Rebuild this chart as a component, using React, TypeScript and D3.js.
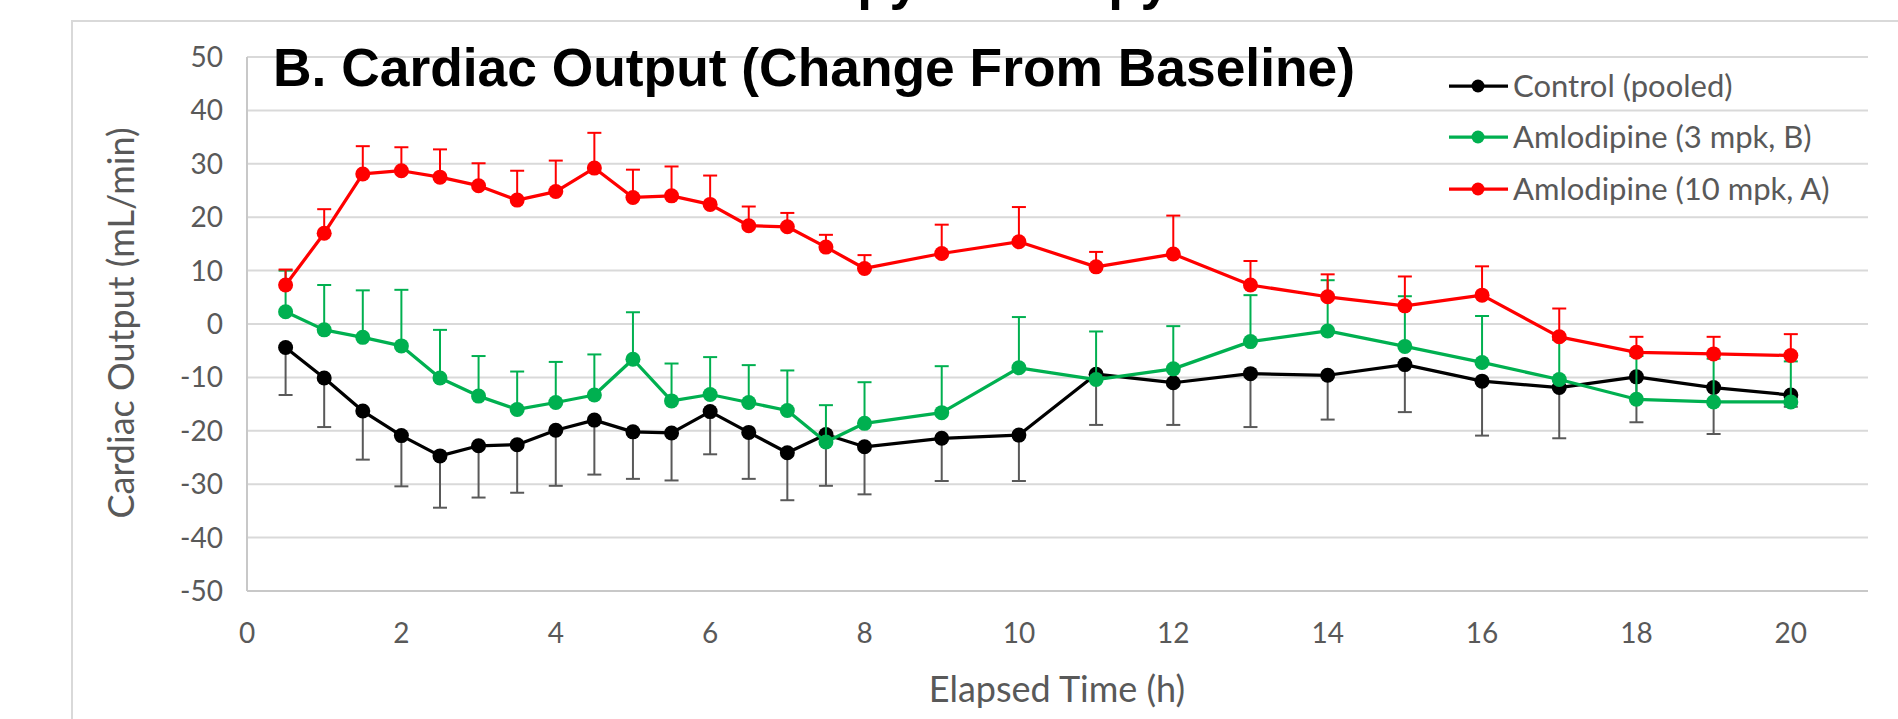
/**
 * Cardiac output change from baseline, three groups, mean +/- SD error bars.
 */
import { useEffect, useRef } from 'react';
import * as d3 from 'd3';

const hours = [0.5, 1, 1.5, 2, 2.5, 3, 3.5, 4, 4.5, 5, 5.5, 6, 6.5, 7, 7.5, 8, 9, 10, 11, 12, 13, 14, 15, 16, 17, 18, 19, 20];

// Control (pooled) - error bars drawn downward
const controlMean = [-4.4, -10.1, -16.3, -20.9, -24.7, -22.8, -22.6, -19.9, -18.0, -20.2, -20.4, -16.4, -20.3, -24.1, -20.7, -23.0, -21.4, -20.8, -9.4, -11.0, -9.3, -9.6, -7.6, -10.7, -11.9, -9.9, -11.9, -13.3];
const controlErr = [8.9, 9.2, 9.1, 9.5, 9.7, 9.7, 9.0, 10.4, 10.2, 8.8, 8.9, 8.0, 8.7, 8.9, 9.6, 8.9, 8.0, 8.6, 9.5, 7.9, 10.0, 8.3, 8.9, 10.2, 9.5, 8.5, 8.7, 2.2];

// Amlodipine 3 mpk (B) - error bars drawn upward
const amlo3Mean = [2.3, -1.1, -2.5, -4.1, -10.1, -13.5, -16.0, -14.7, -13.3, -6.6, -14.4, -13.2, -14.7, -16.2, -22.1, -18.6, -16.6, -8.2, -10.4, -8.4, -3.3, -1.3, -4.2, -7.2, -10.4, -14.1, -14.6, -14.6];
const amlo3Err = [7.7, 8.4, 8.8, 10.5, 9.0, 7.5, 7.1, 7.6, 7.6, 8.8, 7.0, 7.0, 7.0, 7.5, 6.9, 7.7, 8.7, 9.5, 9.0, 8.0, 8.7, 9.5, 9.4, 8.7, 7.4, 8.1, 8.1, 7.6];

// Amlodipine 10 mpk (A) - error bars drawn upward
const amlo10Mean = [7.3, 17.0, 28.1, 28.7, 27.5, 25.9, 23.2, 24.8, 29.2, 23.7, 24.0, 22.4, 18.4, 18.2, 14.4, 10.4, 13.2, 15.4, 10.7, 13.1, 7.3, 5.1, 3.4, 5.4, -2.4, -5.3, -5.6, -5.9];
const amlo10Err = [2.9, 4.5, 5.2, 4.4, 5.2, 4.2, 5.5, 5.8, 6.6, 5.2, 5.5, 5.4, 3.6, 2.6, 2.3, 2.5, 5.4, 6.5, 2.8, 7.2, 4.5, 4.2, 5.5, 5.4, 5.3, 2.9, 3.2, 4.0];

const seriesNames = ['Control (pooled)', 'Amlodipine (3 mpk, B)', 'Amlodipine (10 mpk, A)'];
const xTicks = [0, 2, 4, 6, 8, 10, 12, 14, 16, 18, 20];
const yTicks = [-50, -40, -30, -20, -10, 0, 10, 20, 30, 40, 50];

const COLORS = {
    grid: '#d9d9d9',
    axis: '#c8c8c8',
    text: '#595959',
    control: '#000000',
    controlBar: '#595959',
    amlo3: '#00b050',
    amlo10: '#ff0000',
};

const LABEL_FONT = 'Lato, "Open Sans", sans-serif';
const TITLE_FONT = '"Liberation Sans", Arial, sans-serif';

export default function App() {
    const svgRef = useRef<SVGSVGElement>(null);

    useEffect(() => {
        if (!svgRef.current) return;
        const svg = d3.select(svgRef.current);
        svg.selectAll('*').remove();

        const x = d3.scaleLinear().domain([0, 21]).range([247, 1868]);
        const y = d3.scaleLinear().domain([-50, 50]).range([591, 57]);

        // chart frame (cut off at right and bottom)
        svg.append('rect')
            .attr('x', 72).attr('y', 21)
            .attr('width', 1900).attr('height', 800)
            .attr('fill', '#fff')
            .attr('stroke', COLORS.grid).attr('stroke-width', 2);

        // clipped tail of a heading above the frame
        [['Monotherapy', 919], ['Therapy', 1170]].forEach(([t, ex]) => {
            svg.append('text')
                .attr('x', ex as number).attr('y', -1)
                .attr('text-anchor', 'end')
                .style('font-family', TITLE_FONT).style('font-weight', 'bold').style('font-size', '53px')
                .attr('fill', '#000')
                .text(t as string);
        });

        // gridlines
        svg.append('g')
            .selectAll('line')
            .data(yTicks.filter(d => d > -50))
            .join('line')
            .attr('x1', x(0)).attr('x2', x(21))
            .attr('y1', d => y(d)).attr('y2', d => y(d))
            .attr('stroke', COLORS.grid)
            .attr('stroke-width', 2);

        // axis lines
        svg.append('line')
            .attr('x1', x(0)).attr('x2', x(21))
            .attr('y1', y(-50)).attr('y2', y(-50))
            .attr('stroke', COLORS.axis).attr('stroke-width', 2);
        svg.append('line')
            .attr('x1', x(0)).attr('x2', x(0))
            .attr('y1', y(50)).attr('y2', y(-50))
            .attr('stroke', COLORS.axis).attr('stroke-width', 2);

        // tick labels
        svg.append('g')
            .selectAll('text')
            .data(yTicks)
            .join('text')
            .attr('x', 223).attr('y', d => y(d))
            .attr('dy', '0.36em')
            .attr('text-anchor', 'end')
            .style('font-family', LABEL_FONT).style('font-size', '28px')
            .attr('fill', COLORS.text)
            .text(d => d);

        svg.append('g')
            .selectAll('text')
            .data(xTicks)
            .join('text')
            .attr('x', d => x(d)).attr('y', 643)
            .attr('text-anchor', 'middle')
            .style('font-family', LABEL_FONT).style('font-size', '28px')
            .attr('fill', COLORS.text)
            .text(d => d);

        // axis titles
        svg.append('text')
            .attr('x', 1057).attr('y', 702)
            .attr('text-anchor', 'middle')
            .style('font-family', LABEL_FONT).style('font-size', '36px')
            .attr('fill', COLORS.text)
            .text('Elapsed Time (h)');

        svg.append('text')
            .attr('transform', 'translate(134,323) rotate(-90)')
            .attr('text-anchor', 'middle')
            .style('font-family', LABEL_FONT).style('font-size', '36px')
            .attr('fill', COLORS.text)
            .text('Cardiac Output (mL/min)');

        // series
        const series = [
            { name: seriesNames[0], color: COLORS.control, barColor: COLORS.controlBar, mean: controlMean, err: controlErr, dir: -1 },
            { name: seriesNames[1], color: COLORS.amlo3, barColor: COLORS.amlo3, mean: amlo3Mean, err: amlo3Err, dir: 1 },
            { name: seriesNames[2], color: COLORS.amlo10, barColor: COLORS.amlo10, mean: amlo10Mean, err: amlo10Err, dir: 1 },
        ];

        const line = d3.line<[number, number]>()
            .x(d => x(d[0]))
            .y(d => y(d[1]));

        series.forEach(s => {
            const pts = hours.map((h, i) => ({ h, m: s.mean[i], e: s.err[i] }));
            const g = svg.append('g');

            // error bars
            const bars = g.append('g');
            bars.selectAll('line.stem')
                .data(pts)
                .join('line')
                .attr('class', 'stem')
                .attr('x1', d => x(d.h)).attr('x2', d => x(d.h))
                .attr('y1', d => y(d.m)).attr('y2', d => y(d.m + s.dir * d.e))
                .attr('stroke', s.barColor).attr('stroke-width', 2);
            bars.selectAll('line.cap')
                .data(pts)
                .join('line')
                .attr('class', 'cap')
                .attr('x1', d => x(d.h) - 7).attr('x2', d => x(d.h) + 7)
                .attr('y1', d => y(d.m + s.dir * d.e)).attr('y2', d => y(d.m + s.dir * d.e))
                .attr('stroke', s.barColor).attr('stroke-width', 2);

            g.append('path')
                .datum(hours.map((h, i) => [h, s.mean[i]] as [number, number]))
                .attr('d', line)
                .attr('fill', 'none')
                .attr('stroke', s.color)
                .attr('stroke-width', 3.25)
                .attr('stroke-linejoin', 'round');

            g.selectAll('circle')
                .data(pts)
                .join('circle')
                .attr('cx', d => x(d.h)).attr('cy', d => y(d.m))
                .attr('r', 7.5)
                .attr('fill', s.color);
        });

        // legend
        const legendRows = [86, 137, 189];
        const legendG = svg.append('g');
        series.forEach((s, i) => {
            const ly = legendRows[i];
            legendG.append('line')
                .attr('x1', 1449).attr('x2', 1508)
                .attr('y1', ly).attr('y2', ly)
                .attr('stroke', s.color).attr('stroke-width', 3.25);
            legendG.append('circle')
                .attr('cx', 1478).attr('cy', ly).attr('r', 6.5)
                .attr('fill', s.color);
            legendG.append('text')
                .attr('x', 1513).attr('y', ly + 11)
                .style('font-family', LABEL_FONT).style('font-size', '31px')
                .attr('fill', COLORS.text)
                .text(s.name);
        });

        // panel title
        svg.append('text')
            .attr('x', 273).attr('y', 86)
            .attr('textLength', 1082)
            .attr('lengthAdjust', 'spacingAndGlyphs')
            .style('font-family', TITLE_FONT).style('font-weight', 'bold').style('font-size', '53px')
            .attr('fill', '#000')
            .text('B. Cardiac Output (Change From Baseline)');
    }, []);

    return (
        <svg ref={svgRef} width={1898} height={719}
            style={{ position: 'absolute', left: 0, top: 0, background: '#fff' }} />
    );
}
